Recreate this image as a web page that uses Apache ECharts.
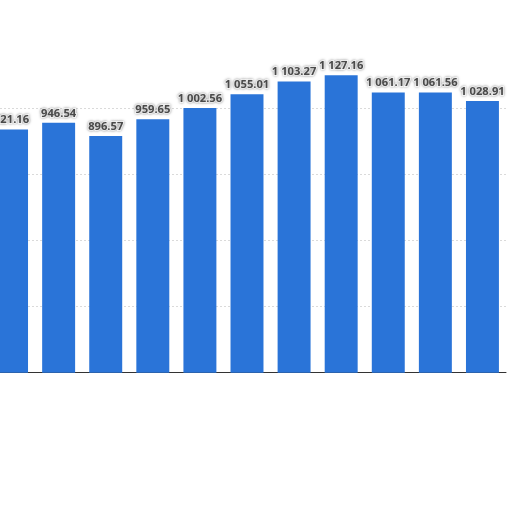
<!DOCTYPE html>
<html>

<head>
    <meta charset="utf-8" />
    <script src="https://cdn.jsdelivr.net/npm/echarts@6/dist/echarts.min.js"></script>
    <style>
        html, body { margin: 0; padding: 0; background: #fff; overflow: hidden; }
        #main { width: 530px; height: 512px; margin-left: -12px; }
    </style>
</head>

<body>
    <div id="main"></div>
    <script>
        var categories = ['1', '2', '3', '4', '5', '6', '7', '8', '9', '10', '11'];
        var values = [921.16, 946.54, 896.57, 959.65, 1002.56, 1055.01, 1103.27, 1127.16, 1061.17, 1061.56, 1028.91];

        function fmt(v) {
            var s = v.toFixed(2).split('.');
            var intPart = s[0].replace(/\B(?=(\d{3})+(?!\d))/g, ' ');
            return intPart + '.' + s[1];
        }

        var myChart = echarts.init(document.getElementById('main'));

        var option = {
            animation: false,
            grid: {
                left: 0,
                right: 12,
                top: 42.7,
                bottom: 139.3,
                containLabel: false
            },
            xAxis: {
                type: 'category',
                data: categories,
                axisLine: { show: true, lineStyle: { color: '#333', width: 1 } },
                axisTick: { show: false },
                axisLabel: { show: false }
            },
            yAxis: {
                type: 'value',
                min: 0,
                max: 1250,
                interval: 250,
                axisLine: { show: false },
                axisTick: { show: false },
                axisLabel: { show: false },
                splitLine: {
                    show: true,
                    showMaxLine: false,
                    lineStyle: { color: '#dadada', type: [2, 2], width: 1 }
                }
            },
            series: [
                {
                    type: 'bar',
                    data: values,
                    barCategoryGap: '30%',
                    itemStyle: { color: '#2a74d8' },
                    label: {
                        show: true,
                        position: 'top',
                        distance: 4,
                        color: '#4a4a4a',
                        fontSize: 11.2,
                        fontWeight: 'bold',
                        fontFamily: 'Noto Sans',
                        textBorderColor: '#fff',
                        textBorderWidth: 2,
                        textShadowColor: 'rgba(0,0,0,0.35)',
                        textShadowBlur: 3,
                        formatter: function (p) {
                            return fmt(p.value);
                        }
                    }
                }
            ]
        };

        myChart.setOption(option);
    </script>
</body>

</html>
